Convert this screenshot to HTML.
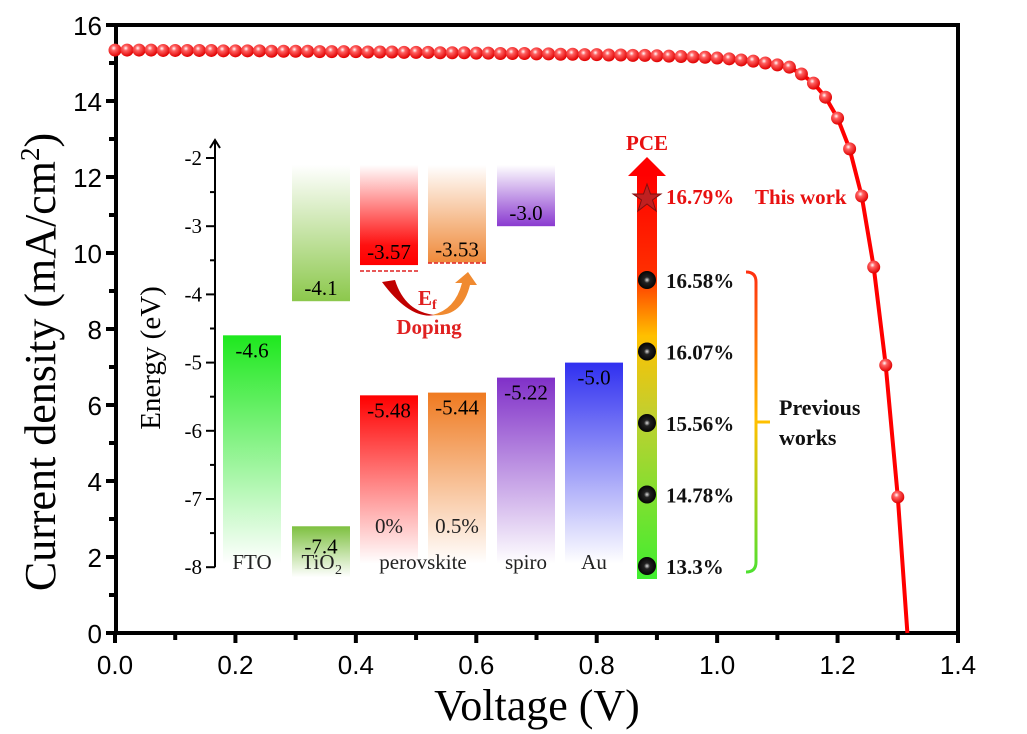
<!DOCTYPE html>
<html><head><meta charset="utf-8">
<style>
body{margin:0;background:#fff;}
svg{display:block;}
.tk{font-family:"Liberation Sans",sans-serif;font-size:26px;fill:#000;}
.ser{font-family:"Liberation Serif",serif;}
</style></head>
<body>
<svg id="chart" width="1027" height="734" viewBox="0 0 1027 734" xmlns="http://www.w3.org/2000/svg">
<defs>
<radialGradient id="ball" cx="0.4" cy="0.35" r="0.65">
<stop offset="0" stop-color="#fff"/><stop offset="0.3" stop-color="#ff6060"/><stop offset="1" stop-color="#e00000"/>
</radialGradient>
<radialGradient id="bball" cx="0.5" cy="0.5" r="0.55">
<stop offset="0" stop-color="#ddd"/><stop offset="0.3" stop-color="#222"/><stop offset="1" stop-color="#000"/>
</radialGradient>
<linearGradient id="gFTO" x1="0" y1="0" x2="0" y2="1"><stop offset="0" stop-color="#1ee81e"/><stop offset="1" stop-color="#fff"/></linearGradient>
<linearGradient id="gTiCB" x1="0" y1="0" x2="0" y2="1"><stop offset="0" stop-color="#fff"/><stop offset="1" stop-color="#8cc84c"/></linearGradient>
<linearGradient id="gTiVB" x1="0" y1="0" x2="0" y2="1"><stop offset="0" stop-color="#7ec040"/><stop offset="1" stop-color="#fff"/></linearGradient>
<linearGradient id="gPCB" x1="0" y1="0" x2="0" y2="1"><stop offset="0" stop-color="#fff"/><stop offset="0.8" stop-color="#ff1010"/><stop offset="1" stop-color="#ff0000"/></linearGradient>
<linearGradient id="gOCB" x1="0" y1="0" x2="0" y2="1"><stop offset="0" stop-color="#fff"/><stop offset="1" stop-color="#ef8a3a"/></linearGradient>
<linearGradient id="gSCB" x1="0" y1="0" x2="0" y2="1"><stop offset="0" stop-color="#fff"/><stop offset="1" stop-color="#8a3ad0"/></linearGradient>
<linearGradient id="gPVB" x1="0" y1="0" x2="0" y2="1"><stop offset="0" stop-color="#ff0000"/><stop offset="1" stop-color="#fff"/></linearGradient>
<linearGradient id="gOVB" x1="0" y1="0" x2="0" y2="1"><stop offset="0" stop-color="#ef7a20"/><stop offset="1" stop-color="#fff"/></linearGradient>
<linearGradient id="gSVB" x1="0" y1="0" x2="0" y2="1"><stop offset="0" stop-color="#8030c8"/><stop offset="1" stop-color="#fff"/></linearGradient>
<linearGradient id="gAu" x1="0" y1="0" x2="0" y2="1"><stop offset="0" stop-color="#3030f0"/><stop offset="1" stop-color="#fff"/></linearGradient>
<linearGradient id="gPCE" x1="0" y1="1" x2="0" y2="0"><stop offset="0" stop-color="#40ee30"/><stop offset="0.4" stop-color="#c0d030"/><stop offset="0.6" stop-color="#ffc000"/><stop offset="0.75" stop-color="#ff3000"/><stop offset="1" stop-color="#ff0000"/></linearGradient>
<linearGradient id="gBr" x1="0" y1="1" x2="0" y2="0"><stop offset="0" stop-color="#50e030"/><stop offset="0.5" stop-color="#ffc000"/><stop offset="1" stop-color="#ff3010"/></linearGradient>
</defs>
<g id="axes"></g>
<g id="inset"></g>
<g id="curve"></g>
</svg>
<script>
// J-V data
const voltages = [0,0.02,0.04,0.06,0.08,0.10,0.12,0.14,0.16,0.18,0.20,
0.22,0.24,0.26,0.28,0.30,0.32,0.34,0.36,0.38,0.40,0.42,0.44,0.46,0.48,0.50,
0.52,0.54,0.56,0.58,0.60,0.62,0.64,0.66,0.68,0.70,0.72,0.74,0.76,0.78,0.80,
0.82,0.84,0.86,0.88,0.90,0.92,0.94,0.96,0.98,1.00,1.02,
1.04,1.06,1.08,1.10,1.12,1.14,1.16,1.18,1.20,1.22,1.24,1.26,1.28,1.30];
const currents = [15.34,15.34,15.34,15.34,15.33,15.33,15.33,15.33,15.33,15.32,15.32,
15.32,15.32,15.31,15.31,15.31,15.31,15.30,15.30,15.30,15.30,15.29,15.29,15.29,15.28,15.28,
15.28,15.27,15.27,15.27,15.26,15.26,15.25,15.25,15.25,15.24,15.24,15.23,15.23,15.22,15.22,
15.21,15.21,15.20,15.20,15.19,15.18,15.17,15.16,15.15,15.13,15.11,
15.08,15.05,15.0,14.95,14.89,14.71,14.47,14.1,13.55,12.74,11.5,9.63,7.05,3.58];
const vocV = 1.316;
const xTicks = [0,0.2,0.4,0.6,0.8,1.0,1.2,1.4];
const yTicks = [0,2,4,6,8,10,12,14,16];
// energy diagram data
const layers = ["FTO","TiO2","perovskite 0%","perovskite 0.5%","spiro","Au"];
const cbLevels = [null,-4.1,-3.57,-3.53,-3.0,null];
const vbLevels = [-4.6,-7.4,-5.48,-5.44,-5.22,-5.0];
const eTicks = [-2,-3,-4,-5,-6,-7,-8];
// PCE data
const pceLabels = ["16.58%","16.07%","15.56%","14.78%","13.3%"];

const NS="http://www.w3.org/2000/svg";
function mk(tag,attrs,parent,text){const e=document.createElementNS(NS,tag);for(const k in attrs)e.setAttribute(k,attrs[k]);if(text!==undefined)e.textContent=text;parent.appendChild(e);return e;}
const X0=115,X1=958,Y0=633,Y1=25;
const xs=v=>X0+(v/1.4)*(X1-X0);
const ys=j=>Y0-(j/16)*(Y0-Y1);
const ax=document.getElementById('axes');
const frame=mk('rect',{x:X0+1,y:Y1,width:X1-X0-1,height:Y0-Y1,fill:'none',stroke:'#000','stroke-width':4},ax);


xTicks.forEach(v=>{
  const t=mk('line',{x1:xs(v),x2:xs(v),y1:Y0,y2:Y0+10,stroke:'#000','stroke-width':4},ax);
  
  
  const l=mk('text',{x:xs(v),y:Y0+41,'text-anchor':'middle',class:'tk'},ax,v.toFixed(1));
  
  
});
for(let i=0;i<7;i++){const v=0.1+0.2*i;
  const t=mk('line',{x1:xs(v),x2:xs(v),y1:Y0,y2:Y0+7,stroke:'#000','stroke-width':4},ax);
  
  }
yTicks.forEach(v=>{
  const t=mk('line',{x1:X0-9,x2:X0,y1:ys(v),y2:ys(v),stroke:'#000','stroke-width':4},ax);
  
  
  const l=mk('text',{x:X0-13,y:ys(v)+10,'text-anchor':'end',class:'tk'},ax,String(v));
  
  
});
for(let i=0;i<8;i++){const v=1+2*i;
  const t=mk('line',{x1:X0-6,x2:X0,y1:ys(v),y2:ys(v),stroke:'#000','stroke-width':4},ax);
  
  }
const xt=mk('text',{x:537,y:720,'text-anchor':'middle',class:'ser','font-size':44},ax,'Voltage (V)');


const yt=mk('text',{x:0,y:0,'text-anchor':'middle',class:'ser','font-size':44,transform:'translate(55,362) rotate(-90)'},ax);


yt.innerHTML='Current density (mA/cm<tspan dy="-16" font-size="27">2</tspan><tspan dy="16">)</tspan>';

// inset
const ins=document.getElementById('inset');
const EA=215, ey=e=>158+(-2-e)*68.2;
const ia=mk('path',{d:`M${EA} ${ey(-8)} V140 M${EA-5} 148 L${EA} 140 L${EA+5} 148`,stroke:'#000','stroke-width':2,fill:'none'},ins);


eTicks.forEach(e=>{
  const t=mk('line',{x1:EA-9,x2:EA,y1:ey(e),y2:ey(e),stroke:'#000','stroke-width':2},ins);
  
  
  const l=mk('text',{x:EA-13,y:ey(e)+7,'text-anchor':'end',class:'ser','font-size':21},ins,String(e));
  
  
  if(e<-2){
  const m=mk('line',{x1:EA-5,x2:EA,y1:ey(e+0.5),y2:ey(e+0.5),stroke:'#000','stroke-width':2},ins);
  
  }
});
const et=mk('text',{x:0,y:0,'text-anchor':'middle',class:'ser','font-size':29,transform:'translate(160,358) rotate(-90)'},ins,'Energy (eV)');


const barX=[223,292,360,428,497,565], BW=58;
const cbFill=[null,'gTiCB','gPCB','gOCB','gSCB',null];
const vbFill=['gFTO','gTiVB','gPVB','gOVB','gSVB','gAu'];
const cbLbl=[null,'-4.1','-3.57','-3.53','-3.0',null];
const vbLbl=['-4.6','-7.4','-5.48','-5.44','-5.22','-5.0'];
layers.forEach((n,i)=>{
  if(cbLevels[i]!==null){
    const r=mk('rect',{x:barX[i],y:ey(-2.1),width:BW,height:ey(cbLevels[i])-ey(-2.1),fill:`url(#${cbFill[i]})`},ins);
    
    
    const l=mk('text',{x:barX[i]+BW/2,y:ey(cbLevels[i])-6,'text-anchor':'middle',class:'ser','font-size':21},ins,cbLbl[i]);
    
    
  }
  const bot=i===1?ey(-8)+10:ey(-7.95);
  const r=mk('rect',{x:barX[i],y:ey(vbLevels[i]),width:BW,height:bot-ey(vbLevels[i]),fill:`url(#${vbFill[i]})`},ins);
  
  
  const l=mk('text',{x:barX[i]+BW/2,y:ey(vbLevels[i])+(i===1?27:22),'text-anchor':'middle',class:'ser','font-size':21},ins,vbLbl[i]);
  
  
});
const names=[['FTO',252],['TiO',318],['perovskite',423],['spiro',526],['Au',594]];
names.forEach(([s,x])=>{
  const t=mk('text',{x:x,y:569,'text-anchor':'middle',class:'ser','font-size':21,fill:'#222'},ins,s);
  
  
});
const sub=mk('text',{x:335,y:574,class:'ser','font-size':14,fill:'#222'},ins,'2');


[['0%',389],['0.5%',457]].forEach(([s,x])=>{
  const t=mk('text',{x:x,y:533,'text-anchor':'middle',class:'ser','font-size':21,fill:'#222'},ins,s);
  
  
});
const d1=mk('line',{x1:360,x2:418,y1:271,y2:271,stroke:'#e02020','stroke-width':1.5,'stroke-dasharray':'4,2'},ins);


const d2=mk('line',{x1:428,x2:487,y1:263,y2:263,stroke:'#e02020','stroke-width':1.5,'stroke-dasharray':'4,2'},ins);


const a1=mk('path',{d:'M382 282 L395 280 Q405 312 435 315 Q410 320 382 282Z',fill:'#c00000'},ins);


const a2=mk('path',{d:'M432 315 Q455 310 462 283 L455 283 L468 272 L477 285 L470 285 Q462 318 432 315Z',fill:'#f08a30'},ins);


const ef=mk('text',{x:418,y:305,class:'ser','font-size':21,'font-weight':'bold',fill:'#e02020'},ins);


ef.innerHTML='E<tspan dy="4" font-size="14">f</tspan>';
const dp=mk('text',{x:429,y:334,'text-anchor':'middle',class:'ser','font-size':21,'font-weight':'bold',fill:'#e02020'},ins,'Doping');



// PCE bar
const pb=mk('rect',{x:637,y:174,width:20,height:405,fill:'url(#gPCE)'},ins);


const ph=mk('path',{d:'M628 176 L647 157 L666 176Z',fill:'#ff0000'},ins);


const pt=mk('text',{x:647,y:150,'text-anchor':'middle',class:'ser','font-size':21,'font-weight':'bold',fill:'#e81010'},ins,'PCE');


const st=mk('path',{d:'M647 184 L650.5 194 L661 194 L652.5 200 L656 211 L647 204 L638 211 L641.5 200 L633 194 L643.5 194Z',fill:'#c02020',stroke:'#801010','stroke-width':1},ins);


const tw=mk('text',{x:666,y:204,class:'ser','font-size':21,'font-weight':'bold',fill:'#e81010'},ins,'16.79%');


const tw2=mk('text',{x:755,y:204,class:'ser','font-size':21,'font-weight':'bold',fill:'#e81010'},ins,'This work');


pceLabels.forEach((s,i)=>{
  const y=280+i*71.5;
  const c=mk('circle',{cx:647,cy:y,r:9,fill:'url(#bball)'},ins);
  
  
  const t=mk('text',{x:666,y:y+8,class:'ser','font-size':21,'font-weight':'bold',fill:'#111'},ins,s);
  
  
});
const br=mk('path',{d:'M746 272 Q756 272 756 282 V562 Q756 572 746 572 M756 422 H770',stroke:'url(#gBr)','stroke-width':3,fill:'none'},ins);


const pw=mk('text',{x:779,y:415,class:'ser','font-size':22,'font-weight':'bold',fill:'#111'},ins,'Previous');


const pw2=mk('text',{x:779,y:445,class:'ser','font-size':22,'font-weight':'bold',fill:'#111'},ins,'works');



// curve
const cg=document.getElementById('curve');
let d=voltages.map((v,i)=>(i?'L':'M')+xs(v).toFixed(1)+' '+ys(currents[i]).toFixed(1)).join(' ');
d+=' L'+xs(vocV).toFixed(1)+' '+ys(0).toFixed(1);
const line=mk('path',{d:d,stroke:'#ff0000','stroke-width':4,fill:'none'},cg);


voltages.forEach((v,i)=>{
  const c=mk('circle',{cx:xs(v),cy:ys(currents[i]),r:6.5,fill:'url(#ball)'},cg);
  
  
});
</script>
</body></html>
